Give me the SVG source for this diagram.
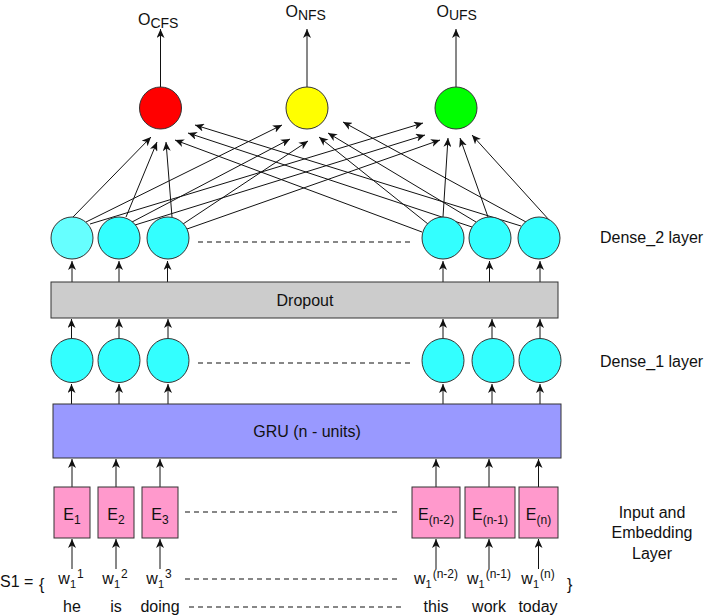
<svg xmlns="http://www.w3.org/2000/svg" width="708" height="615" viewBox="0 0 708 615">
<style>
text{font-family:"Liberation Sans",Arial,sans-serif;font-size:16px;fill:#111}
.ln{stroke:#111;stroke-width:1;fill:none;marker-end:url(#ah)}
.dash{stroke:#111;stroke-width:1.1;stroke-dasharray:5,4;fill:none}
.nd{stroke:#333;stroke-width:1}
.cy{fill:#33ffff}
.e{fill:#ff99cc}
.m{text-anchor:middle}
</style>
<defs>
<marker id="ah" markerUnits="userSpaceOnUse" markerWidth="10" markerHeight="8" refX="9" refY="4" orient="auto">
<path d="M0,0 L9,4 L0,8 L2.5,4 z" fill="#111"/>
</marker>
</defs>
<rect width="708" height="615" fill="#fff"/>

<g id="connectors">
<line class="ln" x1="160.5" y1="87" x2="160.5" y2="29"/>
<line class="ln" x1="307" y1="87" x2="307" y2="29"/>
<line class="ln" x1="456" y1="87" x2="456" y2="29"/>
<line class="ln" x1="73" y1="217" x2="151" y2="137"/>
<line class="ln" x1="86" y1="222" x2="282" y2="125"/>
<line class="ln" x1="90" y1="224" x2="423" y2="123"/>
<line class="ln" x1="126" y1="217" x2="157" y2="142"/>
<line class="ln" x1="132" y1="222" x2="290" y2="139"/>
<line class="ln" x1="135" y1="225" x2="425" y2="135"/>
<line class="ln" x1="172" y1="217" x2="166" y2="142"/>
<line class="ln" x1="183" y1="224" x2="308" y2="141"/>
<line class="ln" x1="187" y1="229" x2="440" y2="140"/>
<line class="ln" x1="422" y1="232" x2="175" y2="140"/>
<line class="ln" x1="428" y1="224" x2="319" y2="137"/>
<line class="ln" x1="443" y1="217" x2="448" y2="138"/>
<line class="ln" x1="472" y1="227" x2="188" y2="133"/>
<line class="ln" x1="476" y1="222" x2="328" y2="133"/>
<line class="ln" x1="488" y1="217" x2="460" y2="138"/>
<line class="ln" x1="521" y1="226" x2="195" y2="125"/>
<line class="ln" x1="526" y1="222" x2="343" y2="122"/>
<line class="ln" x1="550" y1="221" x2="472" y2="135"/>
<line class="ln" x1="72" y1="282" x2="72" y2="261"/>
<line class="ln" x1="119" y1="282" x2="119" y2="261"/>
<line class="ln" x1="167.5" y1="282" x2="167.5" y2="261"/>
<line class="ln" x1="443" y1="282" x2="443" y2="261"/>
<line class="ln" x1="489.5" y1="282" x2="489.5" y2="261"/>
<line class="ln" x1="540" y1="282" x2="540" y2="261"/>
<line class="ln" x1="71.5" y1="338" x2="71.5" y2="319"/>
<line class="ln" x1="119" y1="338" x2="119" y2="319"/>
<line class="ln" x1="168" y1="338" x2="168" y2="319"/>
<line class="ln" x1="443" y1="338" x2="443" y2="319"/>
<line class="ln" x1="492" y1="338" x2="492" y2="319"/>
<line class="ln" x1="540" y1="338" x2="540" y2="319"/>
<line class="ln" x1="71.5" y1="404" x2="71.5" y2="384"/>
<line class="ln" x1="119" y1="404" x2="119" y2="384"/>
<line class="ln" x1="168" y1="404" x2="168" y2="384"/>
<line class="ln" x1="443" y1="404" x2="443" y2="384"/>
<line class="ln" x1="492" y1="404" x2="492" y2="384"/>
<line class="ln" x1="540" y1="404" x2="540" y2="384"/>
<line class="ln" x1="72" y1="487" x2="72" y2="459"/>
<line class="ln" x1="116" y1="487" x2="116" y2="459"/>
<line class="ln" x1="160" y1="487" x2="160" y2="459"/>
<line class="ln" x1="436" y1="487" x2="436" y2="459"/>
<line class="ln" x1="489" y1="487" x2="489" y2="459"/>
<line class="ln" x1="538.5" y1="487" x2="538.5" y2="459"/>
<line class="ln" x1="72" y1="569" x2="72" y2="539"/>
<line class="ln" x1="116" y1="569" x2="116" y2="539"/>
<line class="ln" x1="160" y1="569" x2="160" y2="539"/>
<line class="ln" x1="436" y1="569" x2="436" y2="539"/>
<line class="ln" x1="489" y1="569" x2="489" y2="539"/>
<line class="ln" x1="538.5" y1="569" x2="538.5" y2="539"/>
<line class="dash" x1="198" y1="242" x2="413" y2="242"/>
<line class="dash" x1="198" y1="363" x2="413" y2="363"/>
<line class="dash" x1="185" y1="512" x2="400" y2="512"/>
<line class="dash" x1="185" y1="579" x2="400" y2="579"/>
<line class="dash" x1="189" y1="607" x2="404" y2="607"/>
</g>

<g id="out-cfs"><circle class="nd" cx="160.5" cy="108" r="21" fill="#ff0000"/>
<text x="138" y="25" font-size="18">O<tspan dy="3" font-size="14">CFS</tspan></text></g>
<g id="out-nfs"><circle class="nd" cx="307" cy="108" r="21" fill="#ffff00"/>
<text x="285.5" y="16.5" font-size="18">O<tspan dy="3" font-size="14">NFS</tspan></text></g>
<g id="out-ufs"><circle class="nd" cx="456" cy="108" r="21" fill="#00ff00"/>
<text x="436.5" y="16.5" font-size="18">O<tspan dy="3" font-size="14">UFS</tspan></text></g>

<g id="dense2">
<circle class="nd" cx="72" cy="238" r="21" fill="#66ffff"/>
<circle class="nd cy" cx="119" cy="238" r="21"/>
<circle class="nd cy" cx="168" cy="238" r="21"/>
<circle class="nd cy" cx="443" cy="238" r="21"/>
<circle class="nd cy" cx="490" cy="238" r="21"/>
<circle class="nd cy" cx="539" cy="238" r="21"/>
</g>
<g id="dense2-label"><text x="600" y="243">Dense_2 layer</text></g>

<g id="dropout"><rect class="nd" x="51" y="282" width="507" height="36" fill="#cccccc"/>
<text class="m" x="305" y="306">Dropout</text></g>

<g id="dense1">
<ellipse class="nd cy" cx="72" cy="360.5" rx="21" ry="22"/>
<ellipse class="nd cy" cx="119" cy="360.5" rx="21" ry="22"/>
<ellipse class="nd cy" cx="168" cy="360.5" rx="21" ry="22"/>
<ellipse class="nd cy" cx="443" cy="360.5" rx="21" ry="22"/>
<ellipse class="nd cy" cx="493" cy="360.5" rx="21" ry="22"/>
<ellipse class="nd cy" cx="540" cy="360.5" rx="21" ry="22"/>
</g>
<g id="dense1-label"><text x="600" y="367">Dense_1 layer</text></g>

<g id="gru"><rect class="nd" x="53" y="404" width="508" height="54" fill="#9999ff"/>
<text class="m" x="307" y="437">GRU (n - units)</text></g>

<g id="emb">
<rect class="nd e" x="54" y="487" width="36" height="51"/>
<rect class="nd e" x="98" y="487" width="36" height="51"/>
<rect class="nd e" x="142" y="487" width="36" height="51"/>
<rect class="nd e" x="412" y="487" width="48" height="51"/>
<rect class="nd e" x="465" y="487" width="50" height="51"/>
<rect class="nd e" x="519" y="487" width="39" height="51"/>
<text class="m" x="72" y="520">E<tspan dy="4" font-size="12">1</tspan></text>
<text class="m" x="116" y="520">E<tspan dy="4" font-size="12">2</tspan></text>
<text class="m" x="160" y="520">E<tspan dy="4" font-size="12">3</tspan></text>
<text class="m" x="436" y="520">E<tspan dy="4" font-size="12">(n-2)</tspan></text>
<text class="m" x="490" y="520">E<tspan dy="4" font-size="12">(n-1)</tspan></text>
<text class="m" x="538.5" y="520">E<tspan dy="4" font-size="12">(n)</tspan></text>
</g>
<g id="emb-label">
<text class="m" x="652" y="518">Input and</text>
<text class="m" x="652" y="538">Embedding</text>
<text class="m" x="652" y="559">Layer</text>
</g>

<g id="input">
<text x="0" y="587" font-size="15">S1 =</text>
<text x="39" y="590" font-size="24">{</text>
<text x="567" y="590" font-size="24">}</text>
<text class="m" x="71" y="584">w<tspan dy="4" font-size="11">1</tspan><tspan dx="1" dy="-10" font-size="12">1</tspan></text>
<text class="m" x="115" y="584">w<tspan dy="4" font-size="11">1</tspan><tspan dx="1" dy="-10" font-size="12">2</tspan></text>
<text class="m" x="159" y="584">w<tspan dy="4" font-size="11">1</tspan><tspan dx="1" dy="-10" font-size="12">3</tspan></text>
<text class="m" x="436" y="584">w<tspan dy="4" font-size="11">1</tspan><tspan dx="1" dy="-10" font-size="12">(n-2)</tspan></text>
<text class="m" x="489" y="584">w<tspan dy="4" font-size="11">1</tspan><tspan dx="1" dy="-10" font-size="12">(n-1)</tspan></text>
<text class="m" x="538" y="584">w<tspan dy="4" font-size="11">1</tspan><tspan dx="1" dy="-10" font-size="12">(n)</tspan></text>
</g>
<g id="words">
<text class="m" x="72" y="612">he</text>
<text class="m" x="116" y="612">is</text>
<text class="m" x="160" y="612">doing</text>
<text class="m" x="436" y="612">this</text>
<text class="m" x="489" y="612">work</text>
<text class="m" x="538" y="612">today</text>
</g>
</svg>
